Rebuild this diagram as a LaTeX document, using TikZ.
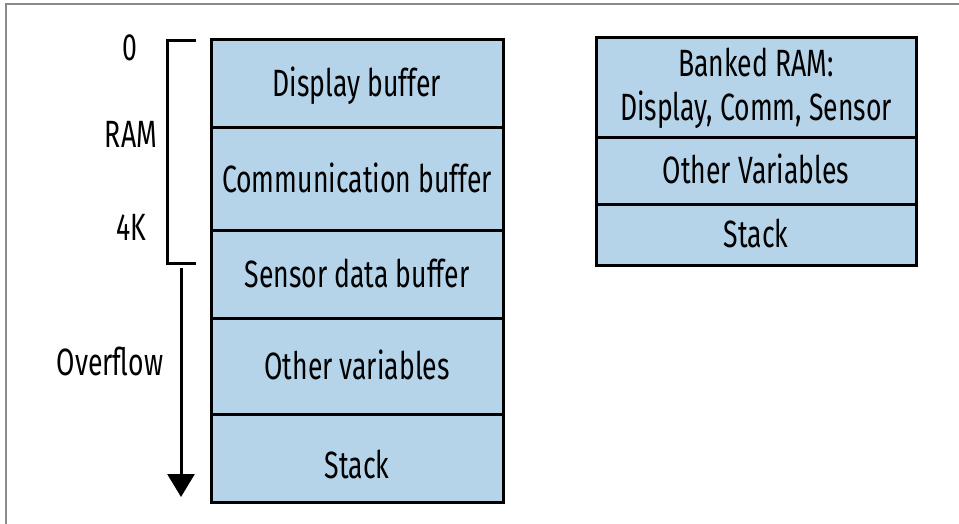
\documentclass[tikz,border=0pt]{standalone}
\usepackage{fontspec}
\setmainfont[FakeStretch=0.70]{Fira Sans}
\usepackage{tikz}
\usetikzlibrary{arrows.meta,positioning}
\definecolor{Ink}{HTML}{000000}
\definecolor{Frame}{HTML}{8A8A8A}
\definecolor{CellBlue}{HTML}{B5D4EA}

\begin{document}
\begin{tikzpicture}[x=0.5pt,y=-0.5pt,>={Triangle[length=11.5pt,width=13.5pt]},
  cell/.style={draw=Ink,fill=CellBlue,line width=1.5pt,inner sep=0pt,outer sep=0pt,
    minimum width=146pt,font=\fontsize{19}{22}\selectfont,
    text height=14pt,text depth=1pt},
  bank/.style={cell,minimum width=160pt},
  lbl/.style={Ink,font=\fontsize{19}{22}\selectfont,inner sep=0pt,
    text height=14pt,text depth=1pt}]
  \useasboundingbox (0,0) rectangle (959,524);
  \draw[Frame,line width=1pt] (959,4.5) -- (5.5,4.5) -- (5.5,524);
  % left memory map
  \node[cell,anchor=north west,minimum height=44pt] (disp) at (211,40) {Display buffer};
  \node[cell,below=0pt of disp,minimum height=51pt] (comm) {Communication buffer};
  \node[cell,below=0pt of comm,minimum height=44pt] (sens) {Sensor data buffer};
  \node[cell,below=0pt of sens,minimum height=48pt] (vars) {Other variables};
  \node[cell,below=0pt of vars,minimum height=44pt,text height=21pt] (stk) {Stack};
  % banked layout
  \node[bank,anchor=north west,minimum height=50pt,align=center,
    text height=,text depth=] (bank) at (596,38)
    {Banked RAM:\\Display, Comm, Sensor};
  \node[bank,below=0pt of bank,minimum height=33pt] (bvars) {Other Variables};
  \node[bank,below=0pt of bvars,minimum height=30.5pt] (bstk) {Stack};
  % RAM bracket and overflow arrow
  \draw[Ink,line width=1.5pt] (196,41) -| (167,263) -- (196,263);
  \coordinate (ovtop) at (181,268);
  \coordinate (ovend) at (181,497);
  \draw[Ink,line width=1.5pt,->] (ovtop) -- (ovend);
  \node[lbl] (zero) at (130,48) {0};
  \node[lbl] (ram) at (131,135) {RAM};
  \node[lbl] (fourk) at (131,228) {4K};
  \node[lbl] (ovfl) at (110,362) {Overflow};
\end{tikzpicture}
\end{document}
